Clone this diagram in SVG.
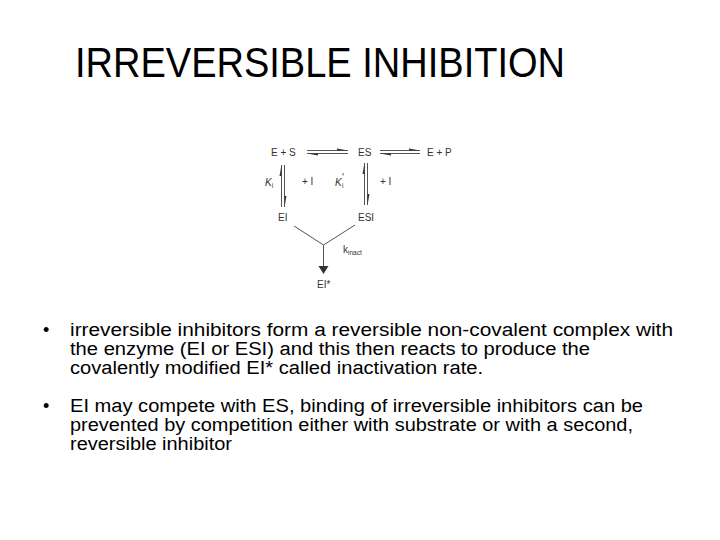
<svg xmlns="http://www.w3.org/2000/svg" width="720" height="540" viewBox="0 0 720 540">
<style>
.title{font-family:"Liberation Sans",Arial,sans-serif;font-size:42px;fill:#000}
.body{font-family:"Liberation Sans",Arial,sans-serif;font-size:18px;fill:#000}
.lbl{font-family:"Liberation Sans",Arial,sans-serif;font-size:10px;fill:#333}
.sub{font-size:6.5px}
.ln{stroke:#555;stroke-width:1;fill:none}
.hd{fill:#333;stroke:none}
</style>
<rect width="720" height="540" fill="#fff"/>
<text class="title" x="75" y="77" textLength="490" lengthAdjust="spacingAndGlyphs">IRREVERSIBLE INHIBITION</text>

<g id="n-ES-S"><text class="lbl" x="271" y="156">E + S</text></g>
<g id="n-ES"><text class="lbl" x="358" y="156">ES</text></g>
<g id="n-EP"><text class="lbl" x="427" y="156">E + P</text></g>
<g id="n-EI"><text class="lbl" x="278" y="221">EI</text></g>
<g id="n-ESI"><text class="lbl" x="358" y="221">ESI</text></g>
<g id="n-EIstar"><text class="lbl" x="317" y="288">EI*</text></g>
<g id="labels">
<text class="lbl" x="265" y="186" font-style="italic">K<tspan class="sub" dy="2" font-style="normal">i</tspan></text>
<text class="lbl" x="302" y="185">+ I</text>
<text class="lbl" x="335" y="186" font-style="italic">K</text>
<text class="lbl" x="342" y="181" font-size="8">'</text>
<text class="lbl sub" x="342" y="188">i</text>
<text class="lbl" x="380" y="185">+ I</text>
<text class="lbl" x="343" y="253">k<tspan class="sub" dy="1.5">inact</tspan></text>
</g>

<g id="connectors">
<line class="ln" x1="307" y1="150.5" x2="348" y2="150.5"/>
<polygon class="hd" points="348,150.5 337,148.5 337,150.5"/>
<line class="ln" x1="307" y1="153.5" x2="348" y2="153.5"/>
<polygon class="hd" points="307,153.5 318,155.5 318,153.5"/>

<line class="ln" x1="380" y1="150.5" x2="420" y2="150.5"/>
<polygon class="hd" points="420,150.5 409,148.5 409,150.5"/>
<line class="ln" x1="380" y1="153.5" x2="420" y2="153.5"/>
<polygon class="hd" points="380,153.5 391,155.5 391,153.5"/>

<line class="ln" x1="281.5" y1="165" x2="281.5" y2="207"/>
<polygon class="hd" points="281.5,165 279.5,176 281.5,176"/>
<line class="ln" x1="284.5" y1="165" x2="284.5" y2="207"/>
<polygon class="hd" points="284.5,207 286.5,196 284.5,196"/>

<line class="ln" x1="364.5" y1="163" x2="364.5" y2="205"/>
<polygon class="hd" points="364.5,163 362.5,174 364.5,174"/>
<line class="ln" x1="367.5" y1="163" x2="367.5" y2="205"/>
<polygon class="hd" points="367.5,205 369.5,194 367.5,194"/>

<polyline class="ln" points="294,226 323.5,245 355,225"/>
<line class="ln" x1="323.5" y1="245" x2="323.5" y2="267"/>
<polygon class="hd" points="318.5,266 328.5,266 323.5,274"/>
</g>

<g id="bullets">
<text class="body" x="43" y="336">•</text>
<text class="body" x="70" y="336" textLength="603" lengthAdjust="spacingAndGlyphs">irreversible inhibitors form a reversible non-covalent complex with</text>
<text class="body" x="70" y="355" textLength="520" lengthAdjust="spacingAndGlyphs">the enzyme (EI or ESI) and this then reacts to produce the</text>
<text class="body" x="70" y="374" textLength="413" lengthAdjust="spacingAndGlyphs">covalently modified EI* called inactivation rate.</text>
<text class="body" x="43" y="412">•</text>
<text class="body" x="70" y="412" textLength="573" lengthAdjust="spacingAndGlyphs">EI  may compete with ES, binding of irreversible inhibitors can be</text>
<text class="body" x="70" y="431" textLength="563" lengthAdjust="spacingAndGlyphs">prevented by competition either with substrate or with a second,</text>
<text class="body" x="70" y="450" textLength="162" lengthAdjust="spacingAndGlyphs">reversible inhibitor</text>
</g>
</svg>
